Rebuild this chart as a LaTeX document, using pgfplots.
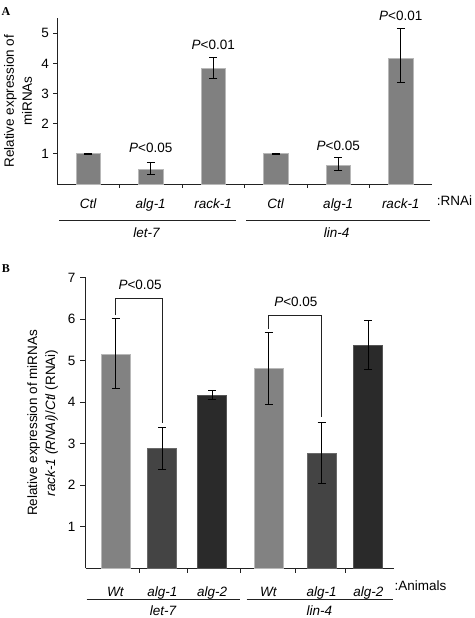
\documentclass[border=0pt]{standalone}
\usepackage{fontspec}
\setmainfont{Liberation Sans}
\newfontfamily\panelfont{Liberation Serif}
\usepackage{pgfplots}
\pgfplotsset{compat=1.18}
\definecolor{barA}{HTML}{808080}
\definecolor{edgeA}{HTML}{B8B8B8}
\definecolor{wt}{HTML}{828282}
\definecolor{aone}{HTML}{444444}
\definecolor{atwo}{HTML}{2A2A2A}
\definecolor{axc}{HTML}{222222}
\pgfplotsset{
  common/.style={
    scale only axis, anchor=south west, clip=false,
    axis x line*=bottom, axis y line*=left,
    axis line style={axc, line width=0.8pt},
    tick align=outside, tick style={axc, line width=0.8pt},
    xtick style={draw=none},
    /pgf/number format/assume math mode=true,
    xticklabel style={anchor=base},
    ylabel style={align=center, anchor=center},
    ybar,
  },
  ebars/.style={error bars/.cd, y dir=both, y explicit,
    error bar style={black, line width=0.9pt},
    error mark options={rotate=90, black, line width=0.9pt, mark size=4pt}},
}
\begin{document}%
\fontsize{13.5}{18}\selectfont%
\begin{tikzpicture}[x=1pt,y=1pt]
\path[use as bounding box] (0,0) rectangle (474,-618);
% ---------------- Panel A ----------------
\node[font=\panelfont\bfseries\fontsize{12}{14}\selectfont] at (6,-12) {A};
\begin{axis}[common,
  at={(57pt,-184pt)}, width=375pt, height=165.7pt,
  xmin=-0.5, xmax=5.5, ymin=0, ymax=5.5,
  ytick={1,2,3,4,5}, major tick length=3.5pt,
  xtick={0,1,2,3,4,5},
  xticklabels={\textit{Ctl},\textit{alg-1},\textit{rack-1},\textit{Ctl},\textit{alg-1},\textit{rack-1}},
  xticklabel style={yshift=-21pt},
  ylabel={Relative expression of\\miRNAs},
  ylabel style={at={(axis description cs:-0.104,0.5)}},
  bar width=24.3pt,
]
\addplot[fill=barA, draw=edgeA, line width=0.8pt, ebars] coordinates {
  (0,1.00) +- (0,0.03)
  (1,0.48) += (0,0.25) -= (0,0.15)
  (2,3.84) += (0,0.36) -= (0,0.35)
  (3,1.00) +- (0,0.03)
  (4,0.62) += (0,0.25) -= (0,0.16)
  (5,4.17) += (0,0.98) -= (0,0.80)
};
\node at (axis cs:1,1.20) {\textit{P}<0.05};
\node at (axis cs:2,4.63) {\textit{P}<0.01};
\node at (axis cs:4,1.26) {\textit{P}<0.05};
\node at (axis cs:5,5.58) {\textit{P}<0.01};
\draw[axc, line width=0.8pt] (axis cs:0.5,0) -- ++(0pt,-4pt);
\draw[axc, line width=0.8pt] (axis cs:1.5,0) -- ++(0pt,-4pt);
\draw[axc, line width=0.8pt] (axis cs:2.5,0) -- ++(0pt,-4pt);
\draw[axc, line width=0.8pt] (axis cs:3.5,0) -- ++(0pt,-4pt);
\draw[axc, line width=0.8pt] (axis cs:4.5,0) -- ++(0pt,-4pt);
\end{axis}
\node[anchor=base west, inner sep=0] at (436.7,-205) {:RNAi};
\draw[axc, line width=0.8pt] (59,-220) -- (236,-220);
\draw[axc, line width=0.8pt] (246,-220) -- (430,-220);
\node[anchor=base] at (146.7,-237) {\textit{let-7}};
\node[anchor=base] at (336.7,-237) {\textit{lin-4}};
% ---------------- Panel B ----------------
\node[font=\panelfont\bfseries\fontsize{12}{14}\selectfont] at (6,-269) {B};
\begin{axis}[common,
  at={(85.7pt,-568.2pt)}, width=308.3pt, height=290.5pt,
  xmin=0, xmax=6, ymin=0, ymax=7,
  ytick={1,2,3,4,5,6,7}, major tick length=5.5pt,
  xtick={0.58,1.49,2.46,3.56,4.59,5.5},
  xticklabels={\textit{Wt},\textit{alg-1},\textit{alg-2},\textit{Wt},\textit{alg-1},\textit{alg-2}},
  xticklabel style={yshift=-22.3pt},
  ylabel={Relative expression of miRNAs\\\textit{rack-1 (RNAi)}/\textit{Ctl} (RNAi)},
  ylabel style={at={(axis description cs:-0.140,0.5)}},
  bar width=29pt, bar shift=0pt,
]
\addplot[fill=wt, draw=edgeA, line width=0.8pt, ebars] coordinates {
  (0.58,5.15) += (0,0.87) -= (0,0.83)
  (3.56,4.82) += (0,0.85) -= (0,0.87)
};
\addplot[fill=aone, draw=aone!80!white, line width=0.8pt, ebars] coordinates {
  (1.49,2.89) += (0,0.50) -= (0,0.51)
  (4.59,2.77) += (0,0.74) -= (0,0.72)
};
\addplot[fill=atwo, draw=atwo!80!white, line width=0.8pt, ebars] coordinates {
  (2.46,4.17) += (0,0.12) -= (0,0.10)
  (5.50,5.37) += (0,0.60) -= (0,0.58)
};
\draw[axc, line width=0.8pt] (axis cs:0.58,6.10) |- (axis cs:1.49,6.49) -- (axis cs:1.49,3.49);
\draw[axc, line width=0.8pt] (axis cs:3.56,5.76) |- (axis cs:4.59,6.10) -- (axis cs:4.59,3.64);
\node at (axis cs:1.06,6.82) {\textit{P}<0.05};
\node at (axis cs:4.09,6.42) {\textit{P}<0.05};
\draw[axc, line width=0.8pt] (axis cs:1.04,0) -- ++(0pt,-5pt);
\draw[axc, line width=0.8pt] (axis cs:1.97,0) -- ++(0pt,-5pt);
\draw[axc, line width=0.8pt] (axis cs:3.02,0) -- ++(0pt,-5pt);
\draw[axc, line width=0.8pt] (axis cs:4.08,0) -- ++(0pt,-5pt);
\draw[axc, line width=0.8pt] (axis cs:5.05,0) -- ++(0pt,-5pt);
\end{axis}
\node[anchor=base west, inner sep=0] at (394.3,-590.5) {:Animals};
\draw[axc, line width=0.8pt] (86.7,-599) -- (240,-599);
\draw[axc, line width=0.8pt] (246.7,-599) -- (392.7,-599);
\node[anchor=base] at (163.3,-615) {\textit{let-7}};
\node[anchor=base] at (319.3,-615) {\textit{lin-4}};
\end{tikzpicture}%
\end{document}
